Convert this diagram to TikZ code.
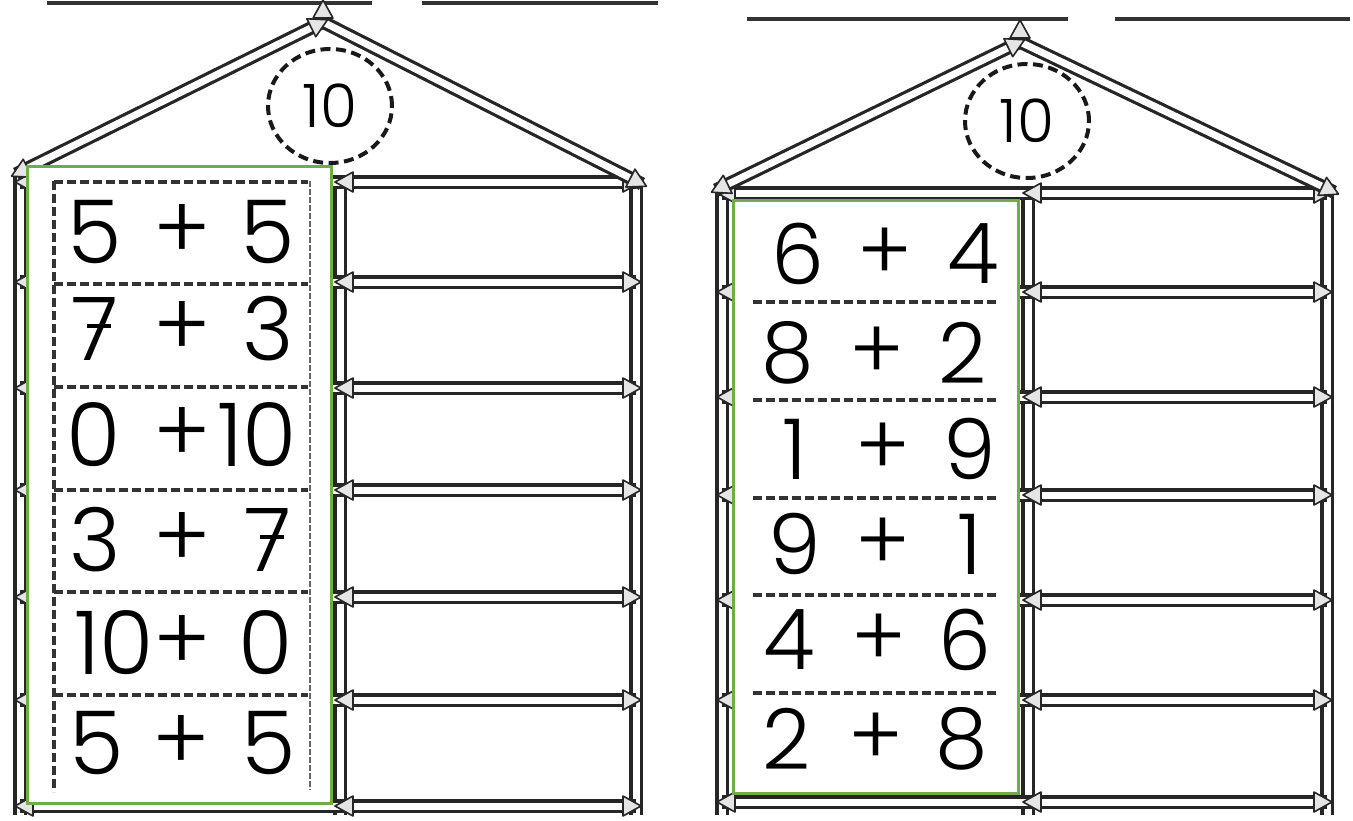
\documentclass[tikz,border=0pt]{standalone}
\usepackage{fontspec}
\setmainfont{Poppins}
\newfontfamily\numfont{Poppins Light}
\usetikzlibrary{calc,shapes.geometric}
\tikzset{
  pencil/.style={draw=black!85, line width=3.2pt, double=white, double distance=7pt},
  tipst/.style={draw=black!85, fill=black!10, line width=1.6pt, line join=round},
  topline/.style={draw=black!80, line width=3.5pt},
  sumbox/.style={draw={rgb,255:red,112;green,173;blue,71}, fill=white, line width=3pt},
  sepline/.style={draw=black!80, line width=3.6pt, dash pattern=on 9pt off 4pt},
  thinsep/.style={draw=black!60, line width=1.5pt, dash pattern=on 6pt off 2pt},
  crossbar/.style={line width=4pt},
  num/.style={inner sep=0pt, font=\numfont\fontsize{88}{88}\selectfont},
  numr/.style={inner sep=0pt, font=\numfont\fontsize{84}{84}\selectfont},
  tencircle/.style={ellipse, draw=black!90, line width=4pt, dash pattern=on 10pt off 5.5pt,
    minimum width=124pt, minimum height=114pt, inner sep=0pt, font=\numfont\fontsize{60}{60}\selectfont}
}
\newcommand\drawpencil[2]{\draw[pencil] (#1) -- (#2);}
\newcommand\drawtip[2]{\filldraw[tipst] ($(#2)!-5pt!(#1)$) -- ($(#2)!13pt!(#1)!10pt!90:(#1)$) -- ($(#2)!13pt!(#1)!10pt!-90:(#1)$) -- cycle;}
\begin{document}
\begin{tikzpicture}[x=1pt,y=-1pt]
\useasboundingbox (0,0) rectangle (1353,820);
% top lines
\draw[topline] (47,3) -- (372,3);
\draw[topline] (422,3) -- (658,3);
\draw[topline] (747,19) -- (1068,19);
\draw[topline] (1115,19) -- (1350,19);

% ================= LEFT HOUSE =================
\coordinate (LA) at (323,22);
\coordinate (LRL) at (16,174);
\coordinate (LRR) at (642,184);
\coordinate (LW1) at (20,176); \coordinate (LW2) at (20,815);
\coordinate (LM1) at (340,182); \coordinate (LM2) at (340,815);
\coordinate (LR1) at (636,186); \coordinate (LR2) at (636,815);
\drawpencil{LW1}{LW2}
\drawpencil{LM1}{LM2}
\drawpencil{LR1}{LR2}
\foreach \y [count=\i] in {182,282,388,490,597,700,806}{
  \coordinate (la\i) at (20,\y);
  \coordinate (lm\i) at (340,\y);
  \coordinate (lr\i) at (636,\y);
  \drawpencil{la\i}{lr\i}
  \drawtip{lm\i}{la\i}
  \drawtip{lr\i}{lm\i}
  \drawtip{lm\i}{lr\i}
}
\drawpencil{LA}{LRL}
\drawpencil{LA}{LRR}
\drawtip{LA}{LRL}
\drawtip{LA}{LRR}
\drawtip{LRL}{LA}
\coordinate (LAt) at (323,5);
\drawtip{LA}{LAt}

\node[tencircle] (lten) at (330,106) {10};

\draw[sumbox] (27,166) rectangle (331,803);
% table
\draw[sepline] (54,181) -- (54,792);
\draw[thinsep] (310,181) -- (310,790);
\foreach \y in {182,284,387,490,592,695}{
  \draw[sepline] (54,\y) -- (308,\y);
}
\node[num] (l1a) at (95,232) {5};
\node[num] (l1p) at (182,232) {+};
\node[num] (l1b) at (268,232) {5};
\node[num] (l2a) at (95,329) {7};
\node[num] (l2p) at (182,329) {+};
\node[num] (l2b) at (268,329) {3};
\draw[crossbar] (l2a.center) ++(-8,-3) -- ++(24,0);
\node[num] (l3a) at (94,435) {0};
\node[num] (l3p) at (182,435) {+};
\node[num] (l3b) at (257,435) {10};
\node[num] (l4a) at (95,540) {3};
\node[num] (l4p) at (182,540) {+};
\node[num] (l4b) at (268,540) {7};
\draw[crossbar] (l4b.center) ++(-8,-3) -- ++(24,0);
\node[num] (l5a) at (114,643) {10};
\node[num] (l5p) at (182,643) {+};
\node[num] (l5b) at (266,643) {0};
\node[num] (l6a) at (97,743) {5};
\node[num] (l6p) at (181,743) {+};
\node[num] (l6b) at (269,743) {5};

% ================= RIGHT HOUSE =================
\coordinate (RA) at (1020,42);
\coordinate (RRL) at (716,190);
\coordinate (RRR) at (1334,192);
\coordinate (RW1) at (722,190); \coordinate (RW2) at (722,815);
\coordinate (RM1) at (1028,193); \coordinate (RM2) at (1028,815);
\coordinate (RR1) at (1327,193); \coordinate (RR2) at (1327,815);
\drawpencil{RW1}{RW2}
\drawpencil{RM1}{RM2}
\drawpencil{RR1}{RR2}
\foreach \y [count=\i] in {193,292,397,495,600,700,802}{
  \coordinate (ra\i) at (722,\y);
  \coordinate (rm\i) at (1028,\y);
  \coordinate (rr\i) at (1327,\y);
  \drawpencil{ra\i}{rr\i}
  \drawtip{rm\i}{ra\i}
  \drawtip{rr\i}{rm\i}
  \drawtip{rm\i}{rr\i}
}
\drawpencil{RA}{RRL}
\drawpencil{RA}{RRR}
\drawtip{RA}{RRL}
\drawtip{RA}{RRR}
\drawtip{RRL}{RA}
\coordinate (RAt) at (1020,25);
\drawtip{RA}{RAt}

\node[tencircle] (rten) at (1027,121) {10};

\draw[sumbox] (733,200) rectangle (1018,793);
\foreach \y in {302,400,498,595,693}{
  \draw[sepline] (753,\y) -- (998,\y);
}
\node[numr] (r1a) at (798,254) {6};
\node[numr] (r1p) at (885,254) {+};
\node[numr] (r1b) at (973,254) {4};
\node[numr] (r2a) at (788,353) {8};
\node[numr] (r2p) at (877,353) {+};
\node[numr] (r2b) at (963,353) {2};
\node[numr] (r3a) at (795,449) {1};
\node[numr] (r3p) at (883,449) {+};
\node[numr] (r3b) at (970,449) {9};
\node[numr] (r4a) at (795,544) {9};
\node[numr] (r4p) at (883,544) {+};
\node[numr] (r4b) at (970,544) {1};
\node[numr] (r5a) at (789,640) {4};
\node[numr] (r5p) at (879,640) {+};
\node[numr] (r5b) at (965,640) {6};
\node[numr] (r6a) at (787,739) {2};
\node[numr] (r6p) at (876,739) {+};
\node[numr] (r6b) at (962,739) {8};
\end{tikzpicture}
\end{document}
